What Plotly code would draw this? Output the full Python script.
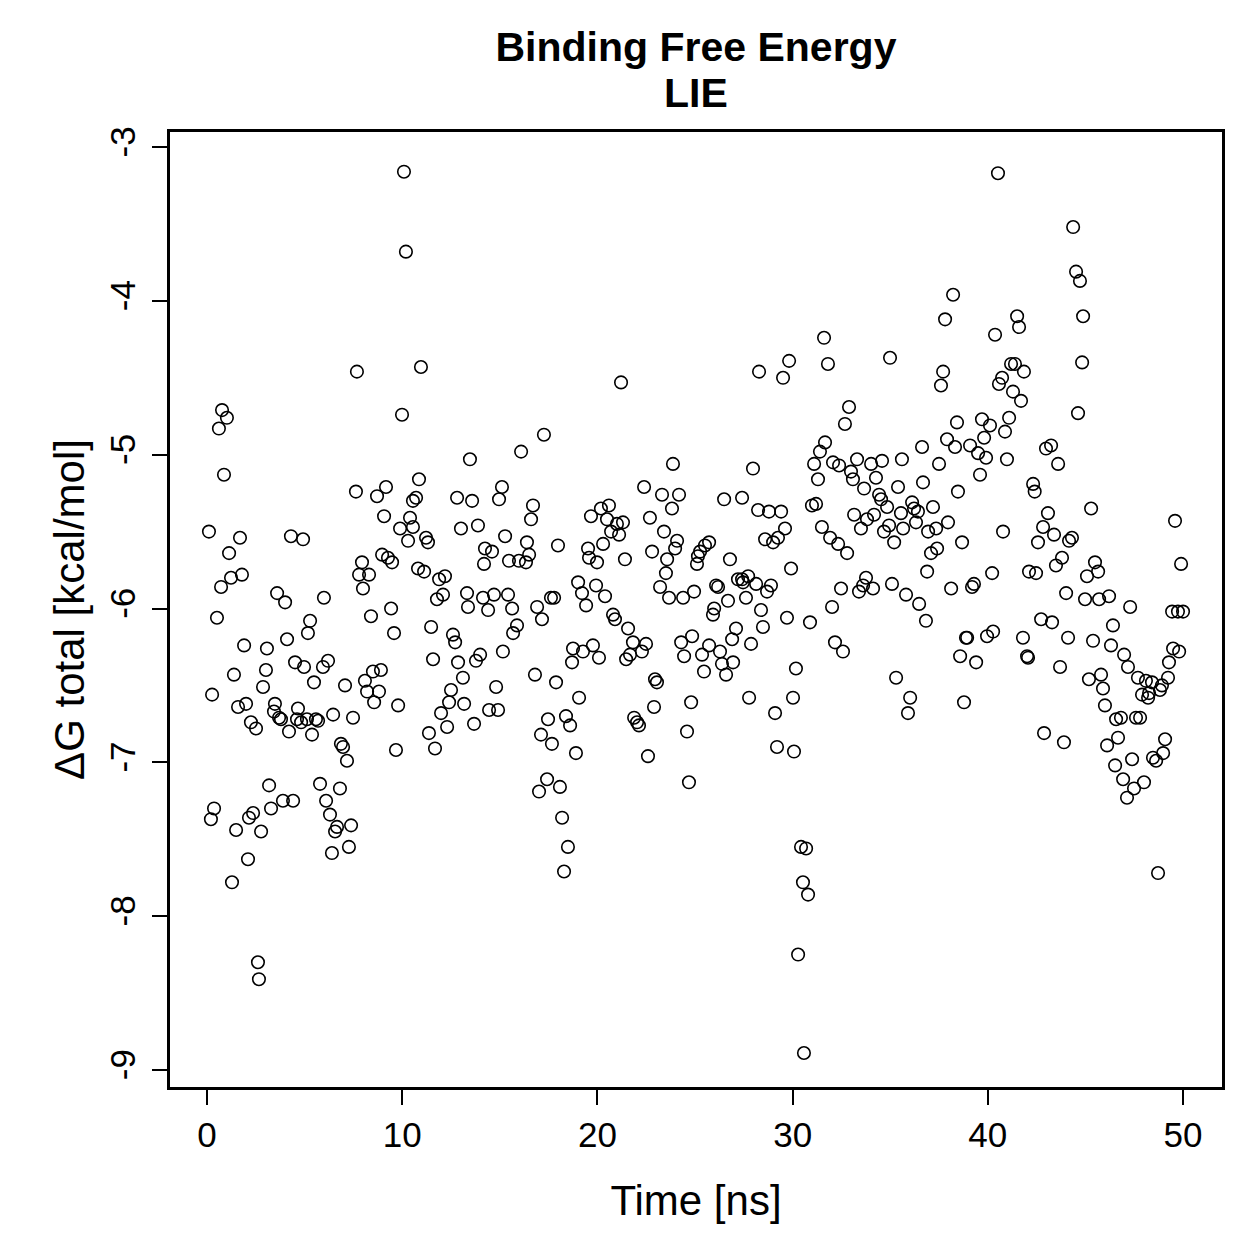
import plotly.graph_objects as go

# ---- data (time in ns, LIE binding free energy in kcal/mol) ----
time_seg1 = [0.77,1.02,0.61,0.87,0.10,1.69,1.13,4.30,4.92,0.72,1.23,1.79,3.59,4.00,5.99,
    0.51,1.90,3.07,4.10,5.28,5.17,1.38,3.02,2.87,4.51,4.97,5.94,6.20,5.48,7.07,
    0.26,1.59,2.00,3.48,3.43,3.69,3.79,4.66,4.61,4.82,5.12,5.58,5.69,4.20,5.38,
    6.46,7.48,2.25,2.51,6.86,6.97,7.17,3.18,5.79,6.81,6.10,6.30,6.66,6.56,7.38,
    7.27,6.40,0.36,0.20,3.89,4.41,3.28,2.36,2.15,1.49,2.77,2.10,1.28,2.61,2.66]
dg_seg1 = [-4.71,-4.76,-4.83,-5.13,-5.50,-5.54,-5.64,-5.53,-5.55,-5.86,-5.80,-5.78,-5.90,-5.96,-5.93,
    -6.06,-6.24,-6.26,-6.20,-6.08,-6.16,-6.43,-6.40,-6.51,-6.35,-6.38,-6.38,-6.34,-6.48,-6.50,
    -6.56,-6.64,-6.62,-6.62,-6.67,-6.71,-6.72,-6.65,-6.72,-6.74,-6.72,-6.72,-6.73,-6.80,-6.82,
    -6.69,-6.71,-6.74,-6.78,-6.88,-6.90,-6.99,-7.15,-7.14,-7.17,-7.25,-7.34,-7.42,-7.45,-7.41,
    -7.55,-7.59,-7.30,-7.37,-7.25,-7.25,-7.30,-7.33,-7.36,-7.44,-7.45,-7.63,-7.78,-8.30,-8.41]

time_seg2 = [10.09,10.19,7.68,10.96,9.99,16.09,13.47,10.86,7.63,8.71,9.17,10.55,10.71,12.81,13.58,
    15.11,14.96,9.07,10.40,9.89,10.55,10.30,11.22,11.32,13.01,13.88,15.27,8.97,9.27,9.48,
    7.94,7.79,8.30,7.99,14.24,14.60,14.19,15.47,15.98,10.81,11.12,11.89,12.19,11.78,12.09,
    13.32,14.14,14.70,15.42,9.43,13.37,14.40,15.63,8.40,9.58,11.48,12.60,12.71,15.88,15.68,
    15.16,11.58,12.86,13.78,13.99,13.11,14.81,8.09,8.50,8.91,8.20,8.81,8.56,9.79,12.50,
    12.40,11.99,13.17,12.30,11.37,13.68,14.45,14.91,11.68,9.68]
dg_seg2 = [-3.16,-3.68,-4.46,-4.43,-4.74,-4.98,-5.03,-5.16,-5.24,-5.27,-5.21,-5.30,-5.28,-5.28,-5.30,
    -5.21,-5.29,-5.40,-5.41,-5.48,-5.47,-5.56,-5.54,-5.57,-5.48,-5.46,-5.53,-5.65,-5.67,-5.70,
    -5.70,-5.78,-5.78,-5.87,-5.61,-5.63,-5.71,-5.69,-5.69,-5.74,-5.76,-5.81,-5.79,-5.94,-5.91,
    -5.90,-5.93,-5.91,-5.91,-6.00,-5.99,-6.01,-6.00,-6.05,-6.16,-6.12,-6.17,-6.22,-6.11,-6.16,
    -6.28,-6.33,-6.35,-6.34,-6.30,-6.45,-6.51,-6.47,-6.41,-6.40,-6.54,-6.54,-6.61,-6.63,-6.53,
    -6.61,-6.68,-6.62,-6.77,-6.81,-6.75,-6.66,-6.66,-6.91,-6.92]

time_seg3 = [21.21,17.26,23.87,22.39,23.31,24.18,23.82,16.70,16.60,19.67,20.18,20.59,20.49,21.00,21.31,
    20.70,21.11,22.69,23.41,24.08,23.98,16.39,16.50,16.34,17.98,20.29,19.52,19.57,19.98,21.41,
    22.80,23.57,23.51,19.01,19.21,19.93,20.39,17.62,17.78,16.91,19.42,23.21,23.67,24.39,24.95,
    17.16,20.80,20.90,21.57,18.75,19.26,19.77,20.08,18.70,21.82,22.49,22.28,21.67,21.47,24.29,
    24.85,24.44,16.80,17.88,19.06,22.95,23.05,24.80,22.90,17.47,18.39,18.60,17.11,17.67,18.90,
    21.88,22.03,22.13,24.59,22.59,17.42,17.01,18.08,24.69,18.19,18.49,18.29]
dg_seg3 = [-4.53,-4.87,-5.06,-5.21,-5.26,-5.26,-5.35,-5.33,-5.42,-5.40,-5.35,-5.33,-5.42,-5.45,-5.44,
    -5.50,-5.52,-5.41,-5.50,-5.56,-5.61,-5.57,-5.65,-5.70,-5.59,-5.58,-5.61,-5.67,-5.70,-5.68,
    -5.63,-5.68,-5.77,-5.83,-5.90,-5.85,-5.92,-5.93,-5.93,-5.99,-5.98,-5.86,-5.93,-5.93,-5.89,
    -6.07,-6.04,-6.07,-6.13,-6.26,-6.28,-6.24,-6.32,-6.35,-6.22,-6.23,-6.28,-6.30,-6.33,-6.22,
    -6.18,-6.31,-6.43,-6.48,-6.58,-6.46,-6.48,-6.61,-6.64,-6.72,-6.70,-6.76,-6.82,-6.88,-6.94,
    -6.71,-6.74,-6.76,-6.80,-6.96,-7.11,-7.19,-7.16,-7.13,-7.36,-7.55,-7.71]

time_seg4 = [31.61,31.81,29.82,29.51,28.28,32.89,32.68,31.66,31.40,27.97,31.10,31.30,32.07,32.38,33.30,
    32.99,33.09,33.66,26.49,27.41,28.23,28.79,29.41,30.99,31.20,33.15,33.81,33.50,29.61,29.25,
    29.00,28.59,31.50,31.92,32.33,32.79,25.72,25.51,25.26,25.15,25.10,26.79,29.92,26.08,26.18,
    27.20,27.41,27.72,27.46,28.13,28.89,28.69,26.69,27.61,25.98,28.38,32.48,33.76,33.61,33.40,
    32.02,25.92,28.48,29.71,30.89,32.17,32.58,27.10,26.90,27.87,25.72,25.36,26.28,26.38,26.95,
    26.59,25.46,30.17,27.77,30.02,29.10,29.20,30.07,30.43,30.69,30.53,30.79,30.28,30.58]
dg_seg4 = [-4.24,-4.41,-4.39,-4.50,-4.46,-4.69,-4.80,-4.92,-4.98,-5.09,-5.06,-5.16,-5.05,-5.07,-5.03,
    -5.11,-5.16,-5.22,-5.29,-5.28,-5.36,-5.37,-5.37,-5.33,-5.32,-5.39,-5.42,-5.48,-5.48,-5.54,
    -5.57,-5.55,-5.47,-5.54,-5.58,-5.64,-5.57,-5.59,-5.63,-5.66,-5.71,-5.68,-5.74,-5.85,-5.86,
    -5.81,-5.81,-5.79,-5.83,-5.84,-5.85,-5.89,-5.95,-5.93,-6.00,-6.01,-5.87,-5.80,-5.85,-5.89,
    -5.99,-6.04,-6.12,-6.06,-6.09,-6.22,-6.28,-6.13,-6.20,-6.23,-6.24,-6.30,-6.28,-6.36,-6.35,
    -6.43,-6.41,-6.39,-6.58,-6.58,-6.68,-6.90,-6.93,-7.55,-7.56,-7.78,-7.86,-8.25,-8.89]

time_seg5 = [40.52,38.22,37.81,41.50,41.60,40.37,34.99,37.71,37.60,41.19,41.39,41.85,40.73,40.57,41.29,
    41.70,41.09,38.42,39.70,40.11,39.81,40.88,37.91,38.32,36.63,39.09,39.50,39.91,40.98,37.50,
    35.60,34.58,34.02,34.27,36.68,39.60,38.47,35.40,34.43,34.53,34.84,36.12,36.22,36.42,37.19,
    35.55,34.17,34.94,34.68,35.66,36.32,36.94,37.35,37.96,35.20,38.68,37.40,37.09,40.78,42.32,
    42.40,36.89,40.22,42.11,42.47,34.12,35.09,35.81,36.48,38.12,39.19,39.29,36.83,38.88,38.94,
    39.96,40.27,41.80,38.58,39.40,42.01,42.06,35.30,36.02,35.91,38.78]
dg_seg5 = [-3.17,-3.96,-4.12,-4.10,-4.17,-4.22,-4.37,-4.46,-4.55,-4.41,-4.41,-4.46,-4.50,-4.54,-4.59,
    -4.65,-4.76,-4.79,-4.77,-4.81,-4.89,-4.85,-4.90,-4.95,-4.95,-4.94,-4.99,-5.02,-5.03,-5.06,
    -5.03,-5.04,-5.06,-5.15,-5.18,-5.13,-5.24,-5.21,-5.26,-5.29,-5.34,-5.31,-5.35,-5.37,-5.34,
    -5.38,-5.39,-5.46,-5.50,-5.48,-5.44,-5.50,-5.48,-5.44,-5.57,-5.57,-5.61,-5.64,-5.50,-5.19,
    -5.24,-5.76,-5.77,-5.76,-5.77,-5.87,-5.84,-5.91,-5.97,-5.87,-5.86,-5.84,-6.08,-6.19,-6.19,
    -6.18,-6.15,-6.19,-6.31,-6.35,-6.31,-6.32,-6.45,-6.58,-6.68,-6.61]

time_seg6 = [44.37,44.52,44.72,44.88,44.83,44.62,42.98,43.24,43.60,43.08,42.83,45.29,49.59,43.39,42.57,
    44.16,44.31,43.80,43.49,45.49,45.65,45.08,49.90,44.01,44.98,45.70,46.21,47.29,49.44,49.74,
    50.00,42.73,43.29,46.41,44.11,45.39,46.31,46.98,47.18,49.49,49.80,49.28,43.70,45.18,45.80,
    45.90,47.69,48.10,48.41,48.92,49.23,47.90,48.21,48.26,48.82,46.00,46.57,46.82,47.59,47.80,
    42.88,43.90,46.11,46.67,49.08,48.98,48.46,48.62,47.39,46.52,46.93,47.49,48.00,47.13,48.72]
dg_seg6 = [-3.52,-3.81,-3.87,-4.10,-4.40,-4.73,-4.96,-4.94,-5.06,-5.38,-5.47,-5.35,-5.43,-5.52,-5.57,
    -5.56,-5.54,-5.67,-5.72,-5.70,-5.76,-5.79,-5.71,-5.90,-5.94,-5.94,-5.92,-5.99,-6.02,-6.02,
    -6.02,-6.07,-6.09,-6.11,-6.19,-6.21,-6.24,-6.30,-6.38,-6.26,-6.28,-6.35,-6.38,-6.46,-6.43,
    -6.52,-6.45,-6.47,-6.48,-6.50,-6.45,-6.56,-6.58,-6.55,-6.53,-6.63,-6.72,-6.71,-6.71,-6.71,
    -6.81,-6.87,-6.89,-6.84,-6.85,-6.94,-6.97,-6.99,-6.98,-7.02,-7.11,-7.17,-7.13,-7.23,-7.72]

x_ticks = [0, 10, 20, 30, 40, 50]
x_tick_labels = ["0", "10", "20", "30", "40", "50"]
y_ticks = [-9, -8, -7, -6, -5, -4, -3]
y_tick_labels = ["-9", "-8", "-7", "-6", "-5", "-4", "-3"]
title_line1 = "Binding Free Energy"
title_line2 = "LIE"

time_ns = time_seg1 + time_seg2 + time_seg3 + time_seg4 + time_seg5 + time_seg6
dg_total = dg_seg1 + dg_seg2 + dg_seg3 + dg_seg4 + dg_seg5 + dg_seg6

FONT = "Liberation Sans, Arial, Helvetica, sans-serif"

fig = go.Figure(
    go.Scatter(
        x=time_ns, y=dg_total, mode="markers",
        marker=dict(symbol="circle-open", size=12.5, color="black",
                    line=dict(width=1.6, color="black")),
        showlegend=False,
    )
)

axis_common = dict(
    showgrid=False, zeroline=False, showline=True, mirror=True,
    linecolor="black", linewidth=2.5,
    ticks="outside", ticklen=15, tickwidth=2, tickcolor="black",
    tickfont=dict(family=FONT, size=35, color="black"),
)

plot_top = 132
plot_h = 1259 - 132 - 172

fig.update_layout(
    width=1259, height=1259,
    margin=dict(l=170, r=37, t=plot_top, b=172),
    paper_bgcolor="white", plot_bgcolor="white",
    font=dict(family=FONT, color="black"),
    title=dict(
        text="<b>" + title_line1 + "</b>",
        font=dict(family=FONT, size=41, color="black"),
        x=0.5, xref="paper", xanchor="center",
        y=1 - 47 / 1259, yref="container", yanchor="middle",
    ),
    annotations=[dict(
        text="<b>" + title_line2 + "</b>",
        font=dict(family=FONT, size=41, color="black"),
        x=0.5, xref="paper", xanchor="center",
        y=1 + (plot_top - 93) / plot_h, yref="paper", yanchor="middle",
        showarrow=False,
    )],
    xaxis=dict(
        range=[-1.896, 51.996], tickvals=x_ticks, ticktext=x_tick_labels,
        ticklabelstandoff=0,
        title=dict(text="Time [ns]", font=dict(family=FONT, size=42, color="black"), standoff=33),
        **axis_common,
    ),
    yaxis=dict(
        range=[-9.111, -2.902], tickvals=y_ticks, ticktext=y_tick_labels,
        tickangle=-90, ticklabelstandoff=3,
        title=dict(text="ΔG total [kcal/mol]", font=dict(family=FONT, size=42, color="black"), standoff=6),
        **axis_common,
    ),
)

fig.write_html("out.html")
